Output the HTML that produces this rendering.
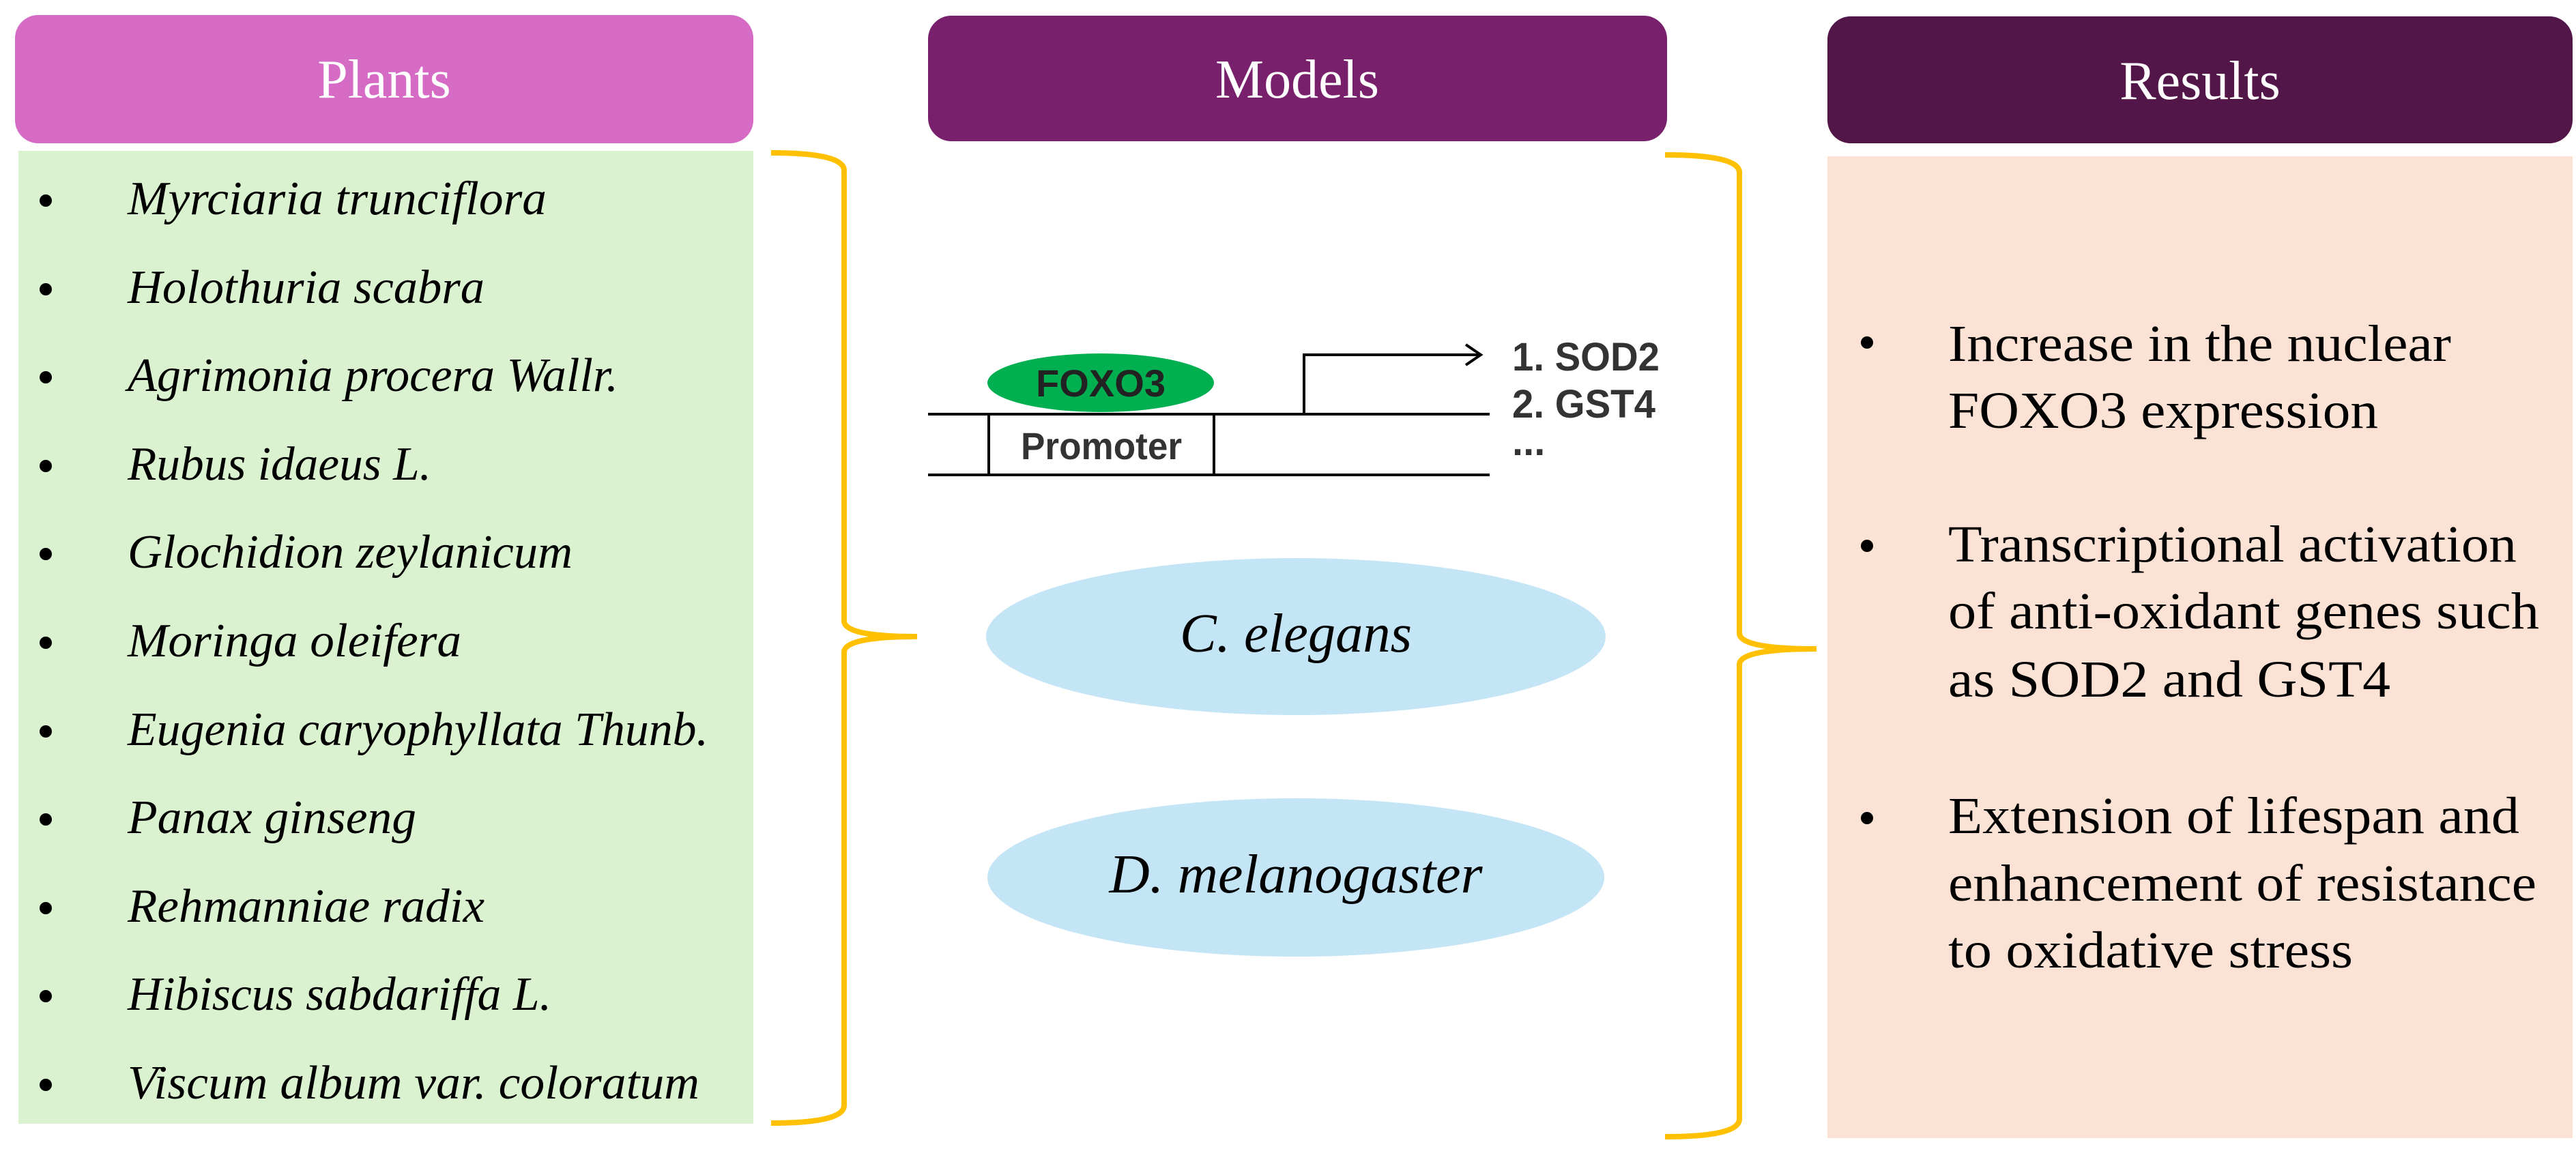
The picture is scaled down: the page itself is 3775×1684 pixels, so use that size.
<!DOCTYPE html>
<html><head><meta charset="utf-8"><style>html,body{margin:0;padding:0;background:#fff}svg{display:block}
.serif{font-family:"Liberation Serif","Times New Roman",Times,serif}
.sans{font-family:"Liberation Sans",Arial,sans-serif}
</style></head>
<body>
<svg width="3775" height="1684" viewBox="0 0 3775 1684" xmlns="http://www.w3.org/2000/svg">
<!-- headers -->
<rect x="22" y="22" width="1082" height="188" rx="34" fill="#D66BC6"/>
<text class="serif" x="563" y="143" font-size="80" fill="#fff" text-anchor="middle">Plants</text>
<rect x="1360" y="23" width="1083" height="184" rx="34" fill="#78206B"/>
<text class="serif" x="1901" y="143" font-size="80" fill="#fff" text-anchor="middle">Models</text>
<rect x="2678" y="24" width="1092" height="186" rx="34" fill="#521748"/>
<text class="serif" x="3224" y="145" font-size="80" fill="#fff" text-anchor="middle">Results</text>

<!-- boxes -->
<rect x="27" y="221" width="1077" height="1426" fill="#DAF2D0"/>
<rect x="2678" y="229" width="1092" height="1439" fill="#FBE2D5"/>

<!-- braces -->
<g fill="none" stroke="#FFC000" stroke-width="8">
<path d="M1130,224 Q1237,224 1237,250 L1237,910 Q1237,933 1344,933 Q1237,933 1237,956 L1237,1620 Q1237,1646 1130,1646"/>
<path d="M2440,227 Q2549,227 2549,253 L2549,928 Q2549,951 2662,951 Q2549,951 2549,974 L2549,1640 Q2549,1666 2440,1666"/>
</g>

<!-- plants list -->
<g class="serif" font-size="70" font-style="italic" fill="#000">
<text x="187" y="314" textLength="614" lengthAdjust="spacingAndGlyphs">Myrciaria trunciflora</text>
<text x="187" y="444" textLength="523" lengthAdjust="spacingAndGlyphs">Holothuria scabra</text>
<text x="187" y="573" textLength="719" lengthAdjust="spacingAndGlyphs">Agrimonia procera Wallr.</text>
<text x="187" y="703" textLength="445" lengthAdjust="spacingAndGlyphs">Rubus idaeus L.</text>
<text x="187" y="832" textLength="652" lengthAdjust="spacingAndGlyphs">Glochidion zeylanicum</text>
<text x="187" y="962" textLength="489" lengthAdjust="spacingAndGlyphs">Moringa oleifera</text>
<text x="187" y="1092" textLength="851" lengthAdjust="spacingAndGlyphs">Eugenia caryophyllata Thunb.</text>
<text x="187" y="1221" textLength="423" lengthAdjust="spacingAndGlyphs">Panax ginseng</text>
<text x="187" y="1351" textLength="523" lengthAdjust="spacingAndGlyphs">Rehmanniae radix</text>
<text x="187" y="1480" textLength="621" lengthAdjust="spacingAndGlyphs">Hibiscus sabdariffa L.</text>
<text x="187" y="1610" textLength="838" lengthAdjust="spacingAndGlyphs">Viscum album var. coloratum</text>
</g>
<g fill="#000">
<circle cx="67" cy="294" r="9"/><circle cx="67" cy="424" r="9"/><circle cx="67" cy="553" r="9"/>
<circle cx="67" cy="683" r="9"/><circle cx="67" cy="812" r="9"/><circle cx="67" cy="942" r="9"/>
<circle cx="67" cy="1072" r="9"/><circle cx="67" cy="1201" r="9"/><circle cx="67" cy="1331" r="9"/>
<circle cx="67" cy="1460" r="9"/><circle cx="67" cy="1590" r="9"/>
</g>

<!-- promoter diagram -->
<ellipse cx="1613" cy="561" rx="166" ry="43" fill="#00B050"/>
<text class="sans" x="1613" y="581" font-weight="bold" font-size="56" fill="#222" text-anchor="middle" textLength="190" lengthAdjust="spacingAndGlyphs">FOXO3</text>
<g stroke="#000" stroke-width="4" fill="none">
<line x1="1360" y1="607" x2="2183" y2="607"/>
<line x1="1360" y1="696" x2="2183" y2="696"/>
<line x1="1449" y1="607" x2="1449" y2="696"/>
<line x1="1779" y1="607" x2="1779" y2="696"/>
<polyline points="1911,607 1911,520 2168,520"/>
<polyline points="2148,505 2170,520 2148,535"/>
</g>
<text class="sans" x="1614" y="673" font-weight="bold" font-size="56" fill="#333" text-anchor="middle" textLength="236" lengthAdjust="spacingAndGlyphs">Promoter</text>
<g class="sans" font-weight="bold" font-size="58" fill="#333">
<text x="2216" y="543" textLength="216" lengthAdjust="spacingAndGlyphs">1. SOD2</text>
<text x="2216" y="612" textLength="210" lengthAdjust="spacingAndGlyphs">2. GST4</text>
<text x="2216" y="667">...</text>
</g>

<!-- model ellipses -->
<ellipse cx="1899" cy="933" rx="454" ry="115" fill="#C3E5F5"/>
<text class="serif" x="1899" y="955" font-style="italic" font-size="80" text-anchor="middle" textLength="340" lengthAdjust="spacingAndGlyphs">C. elegans</text>
<ellipse cx="1899" cy="1286" rx="452" ry="116" fill="#C3E5F5"/>
<text class="serif" x="1899" y="1308" font-style="italic" font-size="80" text-anchor="middle" textLength="547" lengthAdjust="spacingAndGlyphs">D. melanogaster</text>

<!-- results -->
<g fill="#000">
<circle cx="2736" cy="502" r="9"/><circle cx="2736" cy="800" r="9"/><circle cx="2736" cy="1199" r="9"/>
</g>
<g class="serif" font-size="76" fill="#000">
<text x="2855" y="529" textLength="737" lengthAdjust="spacingAndGlyphs">Increase in the nuclear</text>
<text x="2855" y="627" textLength="630" lengthAdjust="spacingAndGlyphs">FOXO3 expression</text>
<text x="2855" y="823" textLength="833" lengthAdjust="spacingAndGlyphs">Transcriptional activation</text>
<text x="2855" y="921" textLength="866" lengthAdjust="spacingAndGlyphs">of anti-oxidant genes such</text>
<text x="2855" y="1021" textLength="648" lengthAdjust="spacingAndGlyphs">as SOD2 and GST4</text>
<text x="2855" y="1221" textLength="837" lengthAdjust="spacingAndGlyphs">Extension of lifespan and</text>
<text x="2855" y="1320" textLength="862" lengthAdjust="spacingAndGlyphs">enhancement of resistance</text>
<text x="2855" y="1418" textLength="593" lengthAdjust="spacingAndGlyphs">to oxidative stress</text>
</g>
</svg>
</body></html>
